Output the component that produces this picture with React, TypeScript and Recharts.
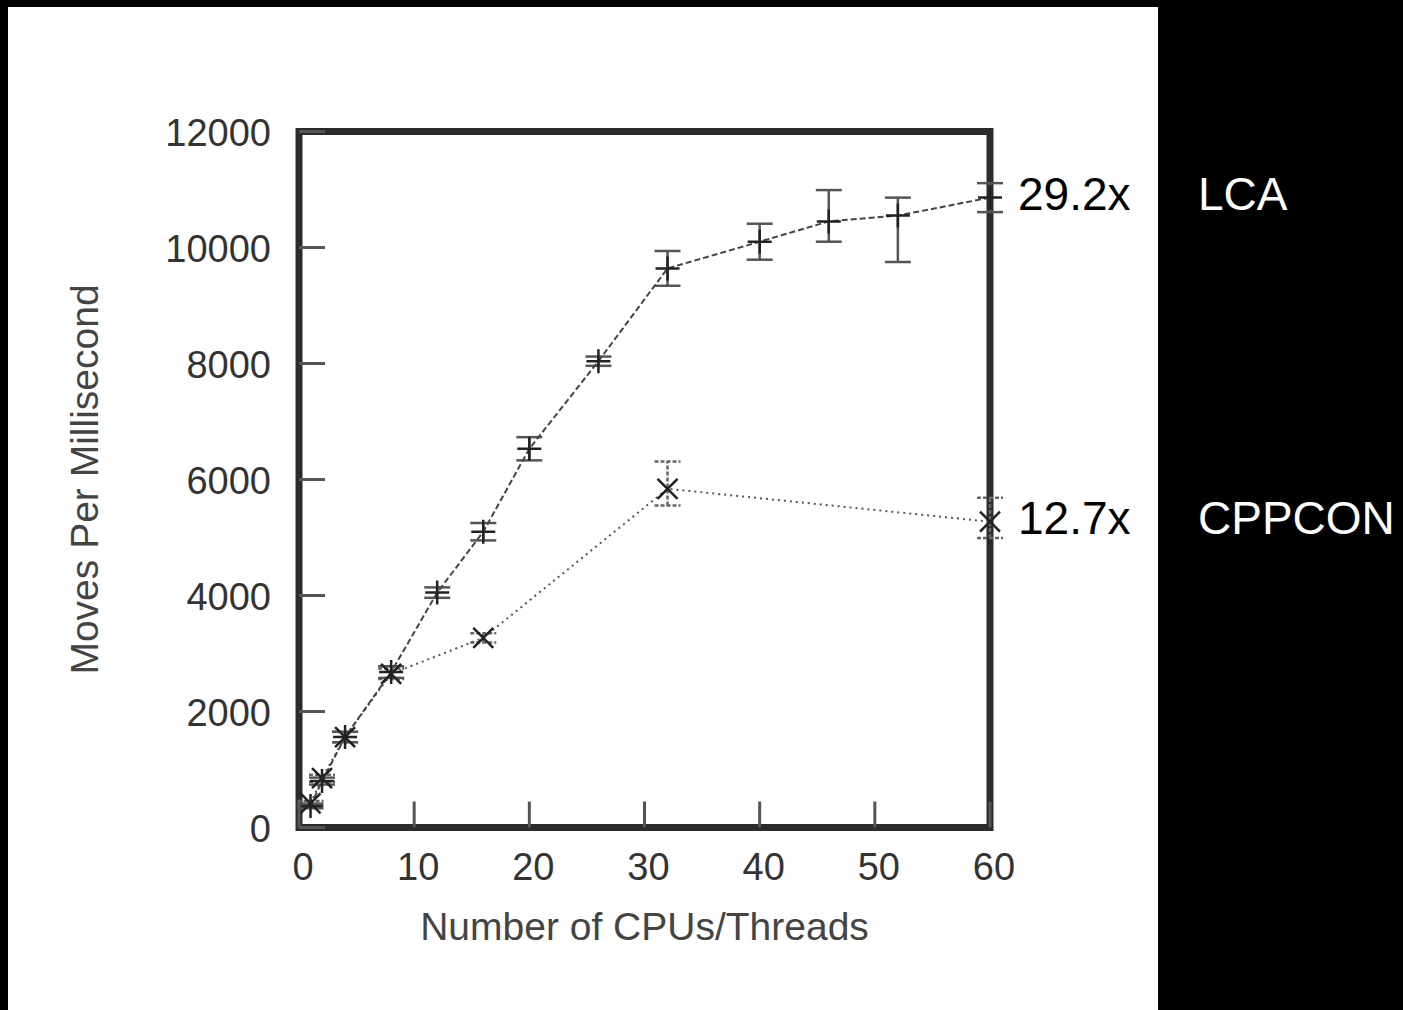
import { ErrorBar, Line, LineChart, ReferenceArea, ReferenceDot, XAxis, YAxis } from "recharts";

// LCA run (plus markers, dashed)
const cpuLca = [1, 2, 4, 8, 12, 16, 20, 26, 32, 40, 46, 52, 60];
const movesLca = [372, 800, 1560, 2680, 4050, 5100, 6530, 8040, 9640, 10100, 10450, 10550, 10860];
const errLca: Array<[number, number]> = [[40, 40], [60, 60], [90, 90], [100, 100], [90, 90], [150, 150], [200, 200], [80, 80], [300, 300], [310, 310], [350, 540], [800, 310], [250, 250]];

// CPPCON run (cross markers, dotted)
const cpuCppcon = [1, 2, 4, 8, 16, 32, 60];
const movesCppcon = [415, 850, 1560, 2650, 3270, 5840, 5272];
const errCppcon: Array<[number, number]> = [[40, 40], [60, 60], [90, 90], [90, 90], [80, 80], [290, 470], [280, 415]];

const xTicks = [0, 10, 20, 30, 40, 50, 60];
const yTicks = [0, 2000, 4000, 6000, 8000, 10000, 12000];
const speedupLca = "29.2x";
const speedupCppcon = "12.7x";

const lcaData = cpuLca.map((cpu, i) => ({ cpu, moves: movesLca[i], err: errLca[i] }));
const cppconData = cpuCppcon.map((cpu, i) => ({ cpu, moves: movesCppcon[i], err: errCppcon[i] }));

const font = "'Liberation Sans', Arial, sans-serif";
const tickText = { fontFamily: font, fontSize: 38, fill: "#333" };
const tickStroke = { stroke: "#555", strokeWidth: 3 };
const TICK = 26;

function BottomTick({ x, y, payload }: any) {
  return <g>
    <line x1={x} y1={y} x2={x} y2={y - TICK} {...tickStroke}/>
    <text x={x + 4} y={y + 52} textAnchor="middle" {...tickText}>{payload.value}</text>
  </g>;
}

function TopTick({ x, y }: any) {
  return <line x1={x} y1={y} x2={x} y2={y + TICK} {...tickStroke}/>;
}

function LeftTick({ x, y, payload }: any) {
  return <g>
    <line x1={x} y1={y} x2={x + TICK} y2={y} {...tickStroke}/>
    <text x={x - 28} y={y + 14} textAnchor="end" {...tickText}>{payload.value}</text>
  </g>;
}

function RightTick({ x, y }: any) {
  return <line x1={x} y1={y} x2={x - TICK} y2={y} {...tickStroke}/>;
}

function PlusDot({ cx, cy }: { cx?: number; cy?: number }) {
  if (cx == null || cy == null) return null;
  return <path d={`M${cx - 12},${cy}H${cx + 12}M${cx},${cy - 12}V${cy + 12}`} stroke="#222" strokeWidth={2.5} fill="none"/>;
}

function CrossDot({ cx, cy }: { cx?: number; cy?: number }) {
  if (cx == null || cy == null) return null;
  const s = 10;
  return <path d={`M${cx - s},${cy - s}L${cx + s},${cy + s}M${cx - s},${cy + s}L${cx + s},${cy - s}`} stroke="#222" strokeWidth={2.5} fill="none"/>;
}

function speedLabel(speed: string, name: string) {
  return (props: any) => {
    const { x, y } = props.viewBox;
    return <g style={{ fontFamily: font, fontSize: 46 }}>
      <text x={x + 28} y={y + 12} fill="#000">{speed}</text>
      <text x={x + 208} y={y + 12} fill="#fff">{name}</text>
    </g>;
  };
}

export default function App() {
  return <div style={{ position: "absolute", left: 0, top: 0, width: 1403, height: 1010, background: "#000" }}>
    <div style={{ position: "absolute", left: 8, top: 7, width: 1150, height: 1003, background: "#fff" }}/>
    <div style={{ position: "absolute", left: 0, top: 0 }}>
      <LineChart width={1403} height={1010} margin={{ top: 130.5, right: 412, left: 239, bottom: 122.5 }} style={{ overflow: "visible" }}>
        <XAxis dataKey="cpu" type="number" domain={[0, 60]} ticks={xTicks} interval={0} axisLine={false} tickLine={false} tickSize={0} tickMargin={0} height={60} tick={<BottomTick/>}
          label={(p: any) => <text x={p.viewBox.x + p.viewBox.width / 2} y={p.viewBox.y + 112.5} textAnchor="middle" fontFamily={font} fontSize={39} fill="#444">Number of CPUs/Threads</text>}/>
        <XAxis xAxisId="top" orientation="top" dataKey="cpu" type="number" domain={[0, 60]} ticks={xTicks} interval={0} axisLine={false} tickLine={false} tickSize={0} tickMargin={0} height={1} tick={<TopTick/>}/>
        <YAxis type="number" domain={[0, 12000]} ticks={yTicks} interval={0} axisLine={false} tickLine={false} tickSize={0} tickMargin={0} width={60} tick={<LeftTick/>}
          label={(p: any) => <text transform={`translate(${p.viewBox.x - 141},${p.viewBox.y + p.viewBox.height / 2}) rotate(-90)`} textAnchor="middle" fontFamily={font} fontSize={39} fill="#444">Moves Per Millisecond</text>}/>
        <YAxis yAxisId="right" orientation="right" type="number" domain={[0, 12000]} ticks={yTicks} interval={0} axisLine={false} tickLine={false} tickSize={0} tickMargin={0} width={1} tick={<RightTick/>}/>
        <ReferenceArea x1={0} x2={60} y1={0} y2={12000} fill="none" stroke="#2b2b2b" strokeWidth={7} ifOverflow="visible"/>
        <Line data={cppconData} dataKey="moves" type="linear" stroke="#555" strokeWidth={2} strokeDasharray="2 4" dot={<CrossDot/>} isAnimationActive={false}>
          <ErrorBar dataKey="err" direction="y" width={13} stroke="#666" strokeWidth={2.5} strokeDasharray="4 2"/>
        </Line>
        <Line data={lcaData} dataKey="moves" type="linear" stroke="#444" strokeWidth={2} strokeDasharray="6 3" dot={<PlusDot/>} isAnimationActive={false}>
          <ErrorBar dataKey="err" direction="y" width={13} stroke="#555" strokeWidth={2.5}/>
        </Line>
        <ReferenceDot x={60} y={movesLca[movesLca.length - 1]} r={0} fill="none" stroke="none" label={speedLabel(speedupLca, "LCA")}/>
        <ReferenceDot x={60} y={movesCppcon[movesCppcon.length - 1]} r={0} fill="none" stroke="none" label={speedLabel(speedupCppcon, "CPPCON")}/>
      </LineChart>
    </div>
  </div>;
}
